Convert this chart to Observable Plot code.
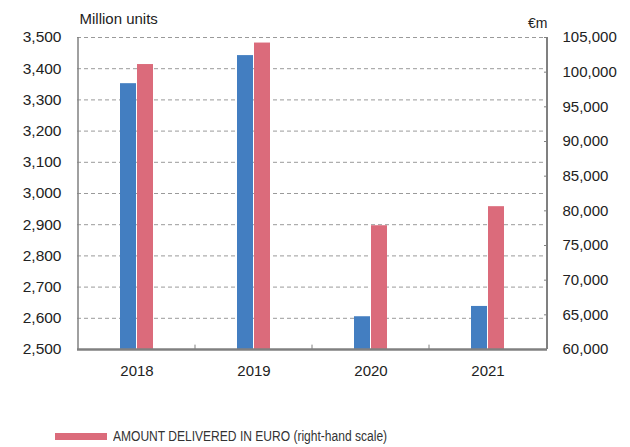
<!DOCTYPE html>
<html>
<head>
<meta charset="utf-8">
<script src="https://cdn.jsdelivr.net/npm/d3@7"></script>
<script src="https://cdn.jsdelivr.net/npm/@observablehq/plot@0.6"></script>
<style>
  html, body { margin: 0; padding: 0; background: #fff; }
  #wrap { position: relative; width: 630px; height: 447px; font-family: "Liberation Sans", Arial, sans-serif; }
  #legend { position: absolute; left: 55px; top: 428px; height: 16px; display: flex; align-items: center; font-family: "Liberation Sans", Arial, sans-serif; font-size: 14px; color: #333; }
  #legend .sw { width: 52px; height: 7px; background: #db6b7b; margin-right: 6px; flex: none; }
  #legend .lt { display: inline-block; transform: scaleX(0.86); transform-origin: left center; white-space: nowrap; }
</style>
</head>
<body>
<div id="wrap"><div id="legend"><span class="sw"></span><span class="lt">AMOUNT DELIVERED IN EURO (right-hand scale)</span></div></div>
<script>
const years = ["2018", "2019", "2020", "2021"];
const units = [3352, 3442, 2605, 2638];          // Million units (left scale)
const euro = [101100, 104200, 77850, 80600];     // €m (right scale)
const leftTicks = [2500, 2600, 2700, 2800, 2900, 3000, 3100, 3200, 3300, 3400, 3500];
const rightTicks = [60000, 65000, 70000, 75000, 80000, 85000, 90000, 95000, 100000, 105000];
const leftDomain = [2500, 3500];
const rightDomain = [60000, 105000];

const toLeft = v => leftDomain[0] + (v - rightDomain[0]) * (leftDomain[1] - leftDomain[0]) / (rightDomain[1] - rightDomain[0]);
const toRight = d => Math.round(rightDomain[0] + (d - leftDomain[0]) * (rightDomain[1] - rightDomain[0]) / (leftDomain[1] - leftDomain[0]));
const fmt = d3.format(",");

const unitData = years.map((y, i) => ({year: y, value: units[i]}));
const euroData = years.map((y, i) => ({year: y, value: toLeft(euro[i])}));

const BLUE = "#437ec1", PINK = "#db6b7b", AXIS = "#808080";

const chart = Plot.plot({
  width: 630,
  height: 447,
  marginLeft: 77,
  marginRight: 83,
  marginTop: 37,
  marginBottom: 98,
  style: {fontFamily: "'Liberation Sans', Arial, sans-serif", background: "#fff", color: "#222"},
  x: {type: "band", domain: years, padding: 0, axis: null},
  y: {domain: leftDomain, axis: null},
  marks: [
    Plot.gridY(leftTicks.slice(1), {stroke: "#9a9a9a", strokeOpacity: 1, strokeDasharray: "4,3", strokeWidth: 1}),
    Plot.barY(unitData, {x: "year", y1: leftDomain[0], y2: "value", fill: BLUE, insetLeft: 42, insetRight: 59}),
    Plot.barY(euroData, {x: "year", y1: leftDomain[0], y2: "value", fill: PINK, insetLeft: 59, insetRight: 42}),
    // left and right axis lines
    Plot.ruleX([years[0]], {x: d => d, dx: -59, y1: leftDomain[0], y2: leftDomain[1], stroke: AXIS, strokeWidth: 1.5}),
    Plot.ruleX([years[years.length - 1]], {x: d => d, dx: 59, y1: leftDomain[0], y2: leftDomain[1], stroke: AXIS, strokeWidth: 2}),
    // category separator ticks on bottom axis
    Plot.ruleX(years.slice(1), {x: d => d, dx: -59, y1: leftDomain[0], y2: leftDomain[0] + 14, stroke: AXIS, strokeWidth: 1}),
    Plot.ruleY([leftDomain[0]], {stroke: AXIS, strokeWidth: 2.5}),
    Plot.axisY(leftTicks, {anchor: "left", label: null, tickSize: 0, tickPadding: 16, fontSize: 15.5, tickFormat: d => fmt(d), fill: "#222"}),
    Plot.axisY(rightTicks.map(toLeft), {anchor: "right", label: null, tickSize: 0, tickPadding: 15, fontSize: 15, tickFormat: d => fmt(toRight(d)), fill: "#222"}),
    Plot.axisY(rightTicks.slice(1).map(toLeft), {anchor: "right", label: null, tickSize: 4, dx: -4, text: null, stroke: AXIS}),
    Plot.axisX(years, {anchor: "bottom", label: null, tickSize: 0, tickPadding: 16, fontSize: 15, fill: "#222"}),
    Plot.text(["Million units"], {frameAnchor: "top-left", textAnchor: "start", lineAnchor: "bottom", dx: 2, dy: -14, fontSize: 15, fill: "#222"}),
    Plot.text(["€m"], {frameAnchor: "top-right", textAnchor: "end", lineAnchor: "bottom", dy: -10, fontSize: 14, fill: "#222"})
  ]
});
document.getElementById("wrap").prepend(chart);
chart.style.position = "absolute";
chart.style.left = "0";
chart.style.top = "0";
</script>
</body>
</html>
